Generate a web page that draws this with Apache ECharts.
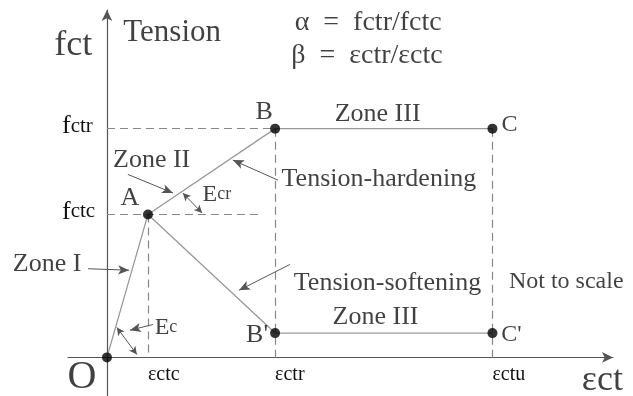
<!DOCTYPE html>
<html>
<head>
<meta charset="utf-8">
<title>Tension model</title>
<script src="https://cdn.jsdelivr.net/npm/echarts@6/dist/echarts.min.js"></script>
<style>
    html, body { margin: 0; padding: 0; background: #fff; }
    #chart { width: 633px; height: 396px; }
</style>
</head>
<body>
<div id="chart"></div>
<script>
// strain ticks on the horizontal axis (diagram is not to scale)
var strainNames = ['ctc', 'ctr', 'ctu'];
var strainValues = [1, 4.1, 9.4];
// stress ticks on the vertical axis
var stressNames = ['ctc', 'ctr'];
var stressValues = [1, 1.6];
// residual stress left after softening (B', C')
var residualStress = 0.17;
var pointNames = ['O', 'A', 'B', 'C', "B'", "C'"];

// text notes: [text, x, y, fontSize]
var notes = [
    ['Tension', 1.59, 2.27, 31],
    ['fct', -0.82, 2.18, 36],
    ['{a|α\u2002=\u2002fctr/fctc}', 6.37, 2.34, 28],
    ['{a|β\u2002=\u2002εctr/εctc}', 6.34, 2.11, 28],
    ['Zone III', 6.60, 1.70, 26],
    ['Zone III', 6.55, 0.28, 26],
    ['Tension-hardening', 6.63, 1.25, 26],
    ['Tension-softening', 6.84, 0.52, 26],
    ['Not to scale', 11.2, 0.53, 24],
    ['Zone II', 1.09, 1.38, 26],
    ['Zone I', -1.46, 0.65, 26],
    ['{e|E}{es|cr}', 2.68, 1.14, 24],
    ['{e|E}{es|c}', 1.44, 0.21, 24],
    ['εct', 12.08, -0.16, 36]
];
// annotation arrows: [from, to]
var pointers = [
    [[-0.46, 0.62], [0.54, 0.61]],
    [[0.51, 1.28], [1.61, 1.15]],
    [[4.17, 1.24], [3.07, 1.38]],
    [[4.46, 0.65], [3.22, 0.47]],
    [[1.12, 0.23], [0.56, 0.19]]
];
// modulus arcs (double headed)
var arcs = [
    [[1.85, 1.15], [2.32, 1.01]],
    [[0.24, 0.21], [0.73, 0.02]]
];
var fctcGuideEnd = 3.73;

var SERIF = '"Liberation Serif", "Times New Roman", serif';
var chart = echarts.init(document.getElementById('chart'));

var O = [0, 0];
var A = [strainValues[0], stressValues[0]];
var B = [strainValues[1], stressValues[1]];
var C = [strainValues[2], stressValues[1]];
var Bs = [strainValues[1], residualStress];
var Cs = [strainValues[2], residualStress];
var points = [O, A, B, C, Bs, Cs];

var labelOffsets = {
    'O': [-25, 20], 'A': [-18, -16], 'B': [-11, -16], 'C': [17, -4],
    "B'": [-18, 2], "C'": [19, 2]
};

var guides = [
    [[0, B[1]], B],
    [[0, A[1]], [fctcGuideEnd, A[1]]],
    [A, [A[0], 0]],
    [B, [B[0], 0]],
    [C, [C[0], 0]]
];

var arrowLines = [];
pointers.forEach(function (p) {
    arrowLines.push([
        {coord: p[0], symbol: 'none'},
        {coord: p[1], symbol: 'arrow', symbolSize: [7, 11]}
    ]);
});
arcs.forEach(function (p) {
    arrowLines.push([
        {coord: p[0], symbol: 'arrow', symbolSize: [6, 8], lineStyle: {curveness: 0.35}},
        {coord: p[1], symbol: 'arrow', symbolSize: [6, 8]}
    ]);
});

function nameOf(list, values, v) {
    var best = 0;
    for (var i = 0; i < values.length; i++) {
        if (Math.abs(values[i] - v) < Math.abs(values[best] - v)) best = i;
    }
    return list[best];
}

var option = {
    animation: false,
    grid: {left: 68, right: 20, top: 10, bottom: 0, containLabel: false, outerBoundsMode: 'none'},
    textStyle: {fontFamily: SERIF, color: '#111'},
    xAxis: {
        type: 'value', min: -0.95, max: 12.34,
        splitLine: {show: false},
        axisTick: {show: false},
        axisLine: {onZero: true, symbol: ['none', 'arrow'], symbolSize: [8, 11],
            lineStyle: {color: '#555', width: 1.2}},
        axisLabel: {
            customValues: strainValues,
            align: 'left', margin: -31,
            fontFamily: SERIF, fontSize: 20, color: '#111',
            formatter: function (v) { return 'ε' + nameOf(strainNames, strainValues, v); }
        }
    },
    yAxis: {
        type: 'value', min: -0.27, max: 2.43,
        splitLine: {show: false},
        axisTick: {show: false},
        axisLine: {onZero: true, symbol: ['none', 'arrow'], symbolSize: [8, 11],
            lineStyle: {color: '#555', width: 1.2}},
        axisLabel: {
            customValues: stressValues,
            align: 'left', margin: 6,
            padding: [0, 0, 5, 0],
            fontFamily: SERIF, fontSize: 26, color: '#111',
            formatter: function (v) { return '{f|f}{s|' + nameOf(stressNames, stressValues, v) + '}'; },
            rich: {
                f: {fontSize: 26, fontFamily: SERIF, color: '#111'},
                s: {fontSize: 21, fontFamily: SERIF, color: '#111'}
            }
        }
    },
    series: [
        {
            // O - A - B - C : hardening branch
            type: 'line', data: [O, A, B, C], symbol: 'none',
            lineStyle: {color: '#999', width: 1.3},
            markLine: {
                silent: true, symbol: ['none', 'none'],
                label: {show: false},
                lineStyle: {color: '#888', width: 1.2, type: [8, 5]},
                data: guides.map(function (g) { return [{coord: g[0]}, {coord: g[1]}]; })
            }
        },
        {
            // A - B' - C' : softening branch
            type: 'line', data: [A, Bs, Cs], symbol: 'none',
            lineStyle: {color: '#999', width: 1.3},
            markLine: {
                silent: true, symbol: ['none', 'none'],
                label: {show: false},
                lineStyle: {color: '#555', width: 1, type: 'solid'},
                data: arrowLines
            }
        },
        {
            type: 'scatter', symbolSize: 10, z: 5,
            itemStyle: {color: '#000'},
            data: points.map(function (p, i) {
                return {
                    name: pointNames[i], value: p,
                    label: {
                        show: true, position: 'inside', formatter: '{b}',
                        offset: labelOffsets[pointNames[i]],
                        fontFamily: SERIF, color: '#111',
                        fontSize: pointNames[i] === 'O' ? 40 : (i === 3 || i === 5 ? 24 : 26)
                    }
                };
            })
        },
        {
            type: 'scatter', symbolSize: 0, clip: false, silent: true,
            data: notes.map(function (n) {
                return {
                    value: [n[1], n[2]],
                    label: {
                        show: true, position: 'inside', formatter: n[0],
                        fontFamily: SERIF, color: '#111', fontSize: n[3],
                        rich: {
                            a: {fontSize: 28},
                            e: {fontSize: 24},
                            es: {fontSize: 18}
                        }
                    }
                };
            })
        }
    ]
};
chart.setOption(option);
</script>
</body>
</html>
